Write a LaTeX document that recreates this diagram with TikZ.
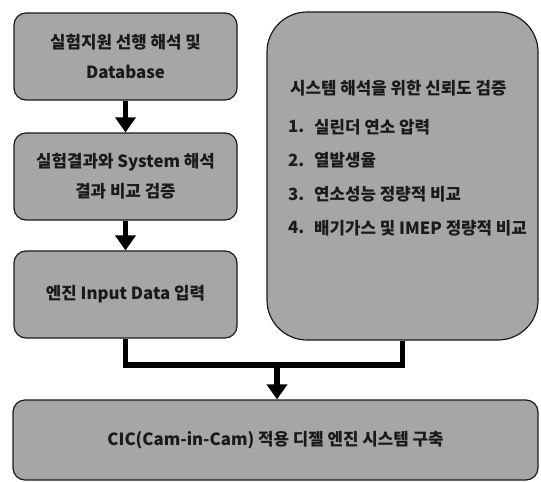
\documentclass[tikz,border=0pt]{standalone}
\usepackage{fontspec}
\setmainfont{Noto Sans CJK KR}
\usetikzlibrary{arrows.meta}
\definecolor{boxgray}{HTML}{A6A6A6}
\definecolor{ink}{HTML}{1A1A1A}
\begin{document}
\begin{tikzpicture}[x=1pt,y=-1pt,
  box/.style={draw=ink,fill=boxgray,line width=1.2pt,rounded corners=12pt,
    minimum width=223pt,minimum height=87pt,inner sep=0pt},
  lbl/.style={font=\bfseries\fontsize{16.8}{30}\selectfont,text=ink,align=center,inner sep=0pt},
  flow/.style={line width=5.5pt,draw=black},
  flowarrow/.style={flow,-{Triangle[width=20pt,length=15pt]}}]
\useasboundingbox (0,0) rectangle (541,482);

% left column
\node[box] (prior) at (125.5,56.5) {};
\node[lbl] at (prior.center) {실험지원 선행 해석 및\\Database};
\node[box] (compare) at (125.5,176.5) {};
\node[lbl] at (compare.center) {실험결과와 System 해석\\결과 비교 검증};
\node[box] (input) at (125.5,294.5) {};
\node[lbl] at (input.center) {엔진 Input Data 입력};

% right column
\node[box,minimum width=271pt,minimum height=328pt,rounded corners=40pt] (verify) at (402.5,176) {};
\node[lbl,anchor=west] (vtitle) at (290,88) {시스템 해석을 위한 신뢰도 검증};
\node[lbl,anchor=west] (n1) at (288,127) {1.};
\node[lbl,anchor=west] (t1) at (314,127) {실린더 연소 압력};
\node[lbl,anchor=west] (n2) at (288,160.5) {2.};
\node[lbl,anchor=west] (t2) at (314,160.5) {열발생율};
\node[lbl,anchor=west] (n3) at (288,194.5) {3.};
\node[lbl,anchor=west] (t3) at (314,194.5) {연소성능 정량적 비교};
\node[lbl,anchor=west] (n4) at (288,228) {4.};
\node[lbl,anchor=west] (t4) at (314,228) {배기가스 및 IMEP 정량적 비교};

% result
\node[box,minimum width=525pt,minimum height=80pt] (result) at (275.5,440) {};
\node[lbl] at (result.center) {CIC(Cam-in-Cam) 적용 디젤 엔진 시스템 구축};

% connectors
\coordinate (join) at (277,365);
\draw[flowarrow] (prior.south) -- (compare.north);
\draw[flowarrow] (compare.south) -- (input.north);
\draw[flow,line join=miter] (input.south) |- (verify.south |- join) -- (verify.south);
\draw[flowarrow] (join) -- (join |- result.north);
\end{tikzpicture}
\end{document}
